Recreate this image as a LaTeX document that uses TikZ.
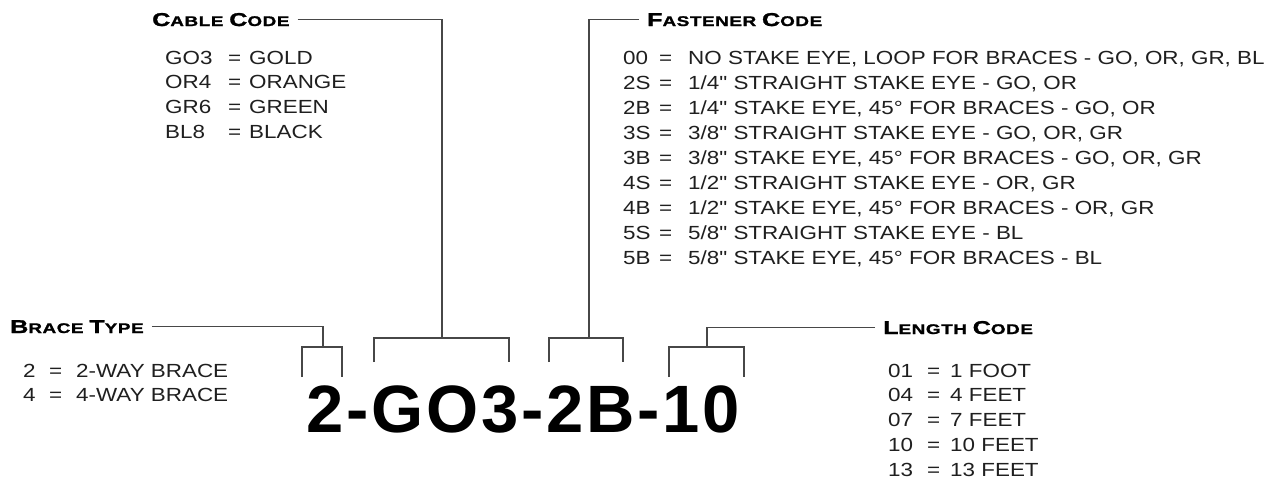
\documentclass[tikz,border=0pt]{standalone}
\usepackage{fontspec}
\setmainfont{Liberation Sans}
\newfontfamily\listfont[FakeStretch=1.18]{Liberation Sans}
\newfontfamily\titlefont[FakeStretch=1.35,LetterSpace=4,FakeBold=1.4]{Liberation Sans}
\newfontfamily\codefont[LetterSpace=4.2]{Liberation Sans}
\newcommand\TT[2]{{\fontsize{18.6}{20}\selectfont #1}{\fontsize{14}{16}\selectfont #2}}
\begin{document}
\begin{tikzpicture}[x=1pt,y=-1pt,
  lst/.style={anchor=base west, inner sep=0pt, text=black!88,
    font=\listfont\fontsize{19}{22}\selectfont},
  ttl/.style={anchor=base west, inner ysep=0pt, inner xsep=8pt,
    font=\titlefont\bfseries\fontsize{14}{16}\selectfont},
  conn/.style={draw=black!72, line width=1.4pt}]
\useasboundingbox (0,0) rectangle (1276,482);
\fill[white] (0,0) rectangle (1276,482);

% titles
\node[ttl] (tcable) at (144,26) {\TT{C}{ABLE} \TT{C}{ODE}};
\node[ttl] (tfast) at (639,26) {\TT{F}{ASTENER} \TT{C}{ODE}};
\node[ttl] (tbrace) at (2,333) {\TT{B}{RACE} \TT{T}{YPE}};
\node[ttl] (tlen) at (875,334) {\TT{L}{ENGTH} \TT{C}{ODE}};

% big code
\node[anchor=base west, inner sep=0pt,
  font=\codefont\bfseries\fontsize{67}{70}\selectfont] (code) at (306,432) {2-GO3-2B-10};

% cable code list
\foreach \c/\v [count=\i] in {GO3/GOLD, OR4/ORANGE, GR6/GREEN, BL8/BLACK}{
  \pgfmathsetmacro\yy{64+24.8*(\i-1)}
  \node[lst] (cc\i) at (165,\yy) {\c};
  \node[lst] (ce\i) at (228,\yy) {=};
  \node[lst] (cv\i) at (249,\yy) {\v};
}

% fastener code list
\foreach \c/\v [count=\i] in {
  00/{NO STAKE EYE, LOOP FOR BRACES - GO, OR, GR, BL},
  2S/{1/4" STRAIGHT STAKE EYE - GO, OR},
  2B/{1/4" STAKE EYE, 45° FOR BRACES - GO, OR},
  3S/{3/8" STRAIGHT STAKE EYE - GO, OR, GR},
  3B/{3/8" STAKE EYE, 45° FOR BRACES - GO, OR, GR},
  4S/{1/2" STRAIGHT STAKE EYE - OR, GR},
  4B/{1/2" STAKE EYE, 45° FOR BRACES - OR, GR},
  5S/{5/8" STRAIGHT STAKE EYE - BL},
  5B/{5/8" STAKE EYE, 45° FOR BRACES - BL}}{
  \pgfmathsetmacro\yy{64+25.1*(\i-1)}
  \node[lst] (fc\i) at (623,\yy) {\c};
  \node[lst] (fe\i) at (659,\yy) {=};
  \node[lst] (fv\i) at (688,\yy) {\v};
}

% brace type list
\foreach \c/\v [count=\i] in {2/2-WAY BRACE, 4/4-WAY BRACE}{
  \pgfmathsetmacro\yy{377+24.8*(\i-1)}
  \node[lst] (bc\i) at (23,\yy) {\c};
  \node[lst] (be\i) at (49,\yy) {=};
  \node[lst] (bv\i) at (76,\yy) {\v};
}

% length code list
\foreach \c/\v [count=\i] in {01/1 FOOT, 04/4 FEET, 07/7 FEET, 10/10 FEET, 13/13 FEET}{
  \pgfmathsetmacro\yy{377+24.9*(\i-1)}
  \node[lst] (lc\i) at (888,\yy) {\c};
  \node[lst] (le\i) at (927,\yy) {=};
  \node[lst] (lv\i) at (950,\yy) {\v};
}

% bracket coordinates
\coordinate (b2l) at (302,377);
\coordinate (b2r) at (342,377);
\coordinate (b2m) at (323,347);
\coordinate (bcl) at (374,362);
\coordinate (bcr) at (509,362);
\coordinate (bcm) at (442,338);
\coordinate (bfl) at (549,362);
\coordinate (bfr) at (623,362);
\coordinate (bfm) at (589,338);
\coordinate (bll) at (669,377);
\coordinate (blr) at (744,377);
\coordinate (blm) at (707,347);

% brackets
\draw[conn] (b2l) |- (b2m) -| (b2r);
\draw[conn] (bcl) |- (bcm) -| (bcr);
\draw[conn] (bfl) |- (bfm) -| (bfr);
\draw[conn] (bll) |- (blm) -| (blr);

% leaders
\draw[conn] (tbrace.east) -| (b2m);
\draw[conn] (tcable.east) -| (bcm);
\draw[conn] (tfast.west) -| (bfm);
\draw[conn] (tlen.west) -| (blm);
\end{tikzpicture}
\end{document}
